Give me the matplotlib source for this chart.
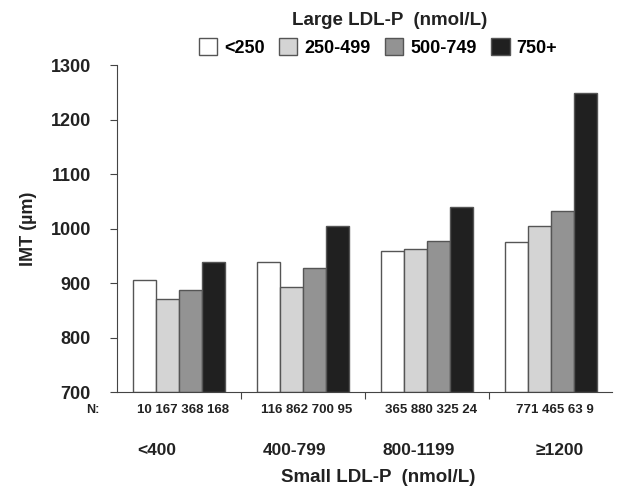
import matplotlib
matplotlib.use('Agg')
import matplotlib.pyplot as plt
import numpy as np
from matplotlib.patches import Patch
from matplotlib.transforms import blended_transform_factory

plt.rcParams['font.family'] = ['Liberation Sans', 'DejaVu Sans']
plt.rcParams['font.weight'] = 'bold'

# small LDL-P groups and large LDL-P series
groups = ['<400', '400-799', '800-1199', '\u22651200']
series = ['<250', '250-499', '500-749', '750+']
imt = [
    [905, 938, 958, 975],      # <250
    [870, 893, 963, 1005],     # 250-499
    [888, 928, 978, 1032],     # 500-749
    [938, 1005, 1040, 1248],   # 750+
]
counts = [
    [10, 116, 365, 771],
    [167, 862, 880, 465],
    [368, 700, 325, 63],
    [168, 95, 24, 9],
]
colors = ['#ffffff', '#d4d4d4', '#939393', '#202020']

fig = plt.figure(figsize=(6.2, 4.9), dpi=100)
ax = fig.add_axes([0.189, 0.2, 0.798, 0.667])

x = np.arange(len(groups))
w = 0.185
trans_n = blended_transform_factory(ax.transData, ax.transAxes)
for i in range(len(series)):
    pos = x + (i - 1.5) * w
    ax.bar(pos, np.array(imt[i]) - 700, bottom=700, width=w, color=colors[i],
           edgecolor='#555555', linewidth=1.0, zorder=2)

# N counts written as one line per group, like the original
for g in x:
    line = ' '.join(str(counts[i][g]) for i in range(len(series)))
    ax.text(g + 0.03, -0.055, line, transform=trans_n, ha='center', va='center',
            fontsize=9.5, fontweight='bold', color='#222222')

ax.text(-0.05, -0.055, 'N:', transform=ax.transAxes, ha='center', va='center',
        fontsize=9, fontweight='bold', color='#222222')

label_off = [-0.18, -0.07, -0.07, 0.07]
for g, lab, off in zip(x, groups, label_off):
    ax.text(g + off, -0.18, lab, transform=trans_n, ha='center', va='center',
            fontsize=12.5, fontweight='bold', color='#222222')

ax.set_xlim(-0.5, 3.49)
ax.set_ylim(700, 1300)
ax.set_yticks(range(700, 1301, 100))
ax.set_xticks([0.5, 1.5, 2.5])
ax.set_xticklabels([])
ax.tick_params(axis='x', length=5, color='#444444')
ax.tick_params(axis='y', length=5, color='#444444', labelsize=13, pad=14)
for lab in ax.get_yticklabels():
    lab.set_fontweight('bold')
    lab.set_color('#222222')
ax.spines['top'].set_visible(False)
ax.spines['right'].set_visible(False)
ax.spines['left'].set_color('#444444')
ax.spines['bottom'].set_color('#444444')
ax.set_ylabel('IMT (\u00b5m)', fontsize=13, fontweight='bold', color='#222222', labelpad=10)

fig.text(0.628, 0.958, 'Large LDL-P  (nmol/L)', ha='center', va='center',
         fontsize=13.5, fontweight='bold', color='#222222')
fig.text(0.61, 0.025, 'Small LDL-P  (nmol/L)', ha='center', va='center',
         fontsize=13.5, fontweight='bold', color='#222222')

handles = [Patch(facecolor=c, edgecolor='#555555', linewidth=1.0) for c in colors]
fig.legend(handles, series, loc='center', bbox_to_anchor=(0.61, 0.903), ncol=4,
           frameon=False, handlelength=1.0, handleheight=1.0, handletextpad=0.4,
           columnspacing=0.8, prop={'size': 13, 'weight': 'bold'})

fig.savefig('out.png', dpi=100)
